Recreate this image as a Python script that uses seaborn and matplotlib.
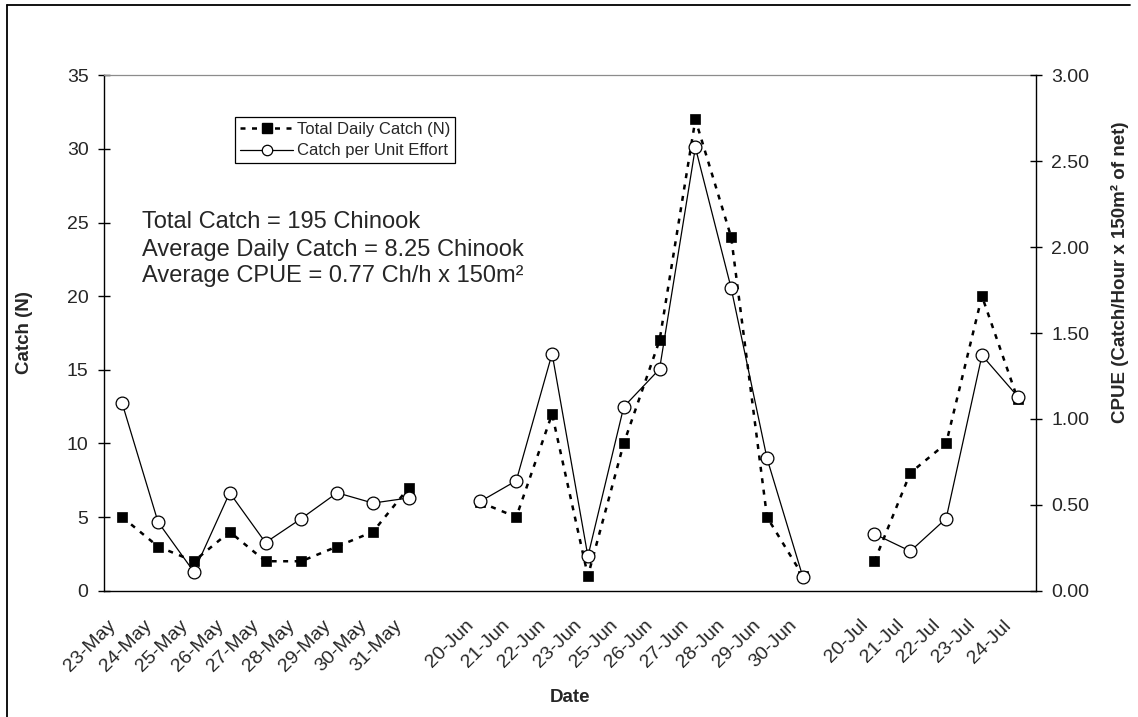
import numpy as np
import pandas as pd
import seaborn as sns
import matplotlib
matplotlib.use("Agg")
import matplotlib.pyplot as plt
from matplotlib.lines import Line2D
from matplotlib.transforms import ScaledTranslation

# ---------------- data ----------------
dates_may = ["23-May", "24-May", "25-May", "26-May", "27-May", "28-May", "29-May", "30-May", "31-May"]
dates_jun = ["20-Jun", "21-Jun", "22-Jun", "23-Jun", "25-Jun", "26-Jun", "27-Jun", "28-Jun", "29-Jun", "30-Jun"]
dates_jul = ["20-Jul", "21-Jul", "22-Jul", "23-Jul", "24-Jul"]

catch_may = [5, 3, 2, 4, 2, 2, 3, 4, 7]
catch_jun = [6, 5, 12, 1, 10, 17, 32, 24, 5, 1]
catch_jul = [2, 8, 10, 20, 13]

cpue_may = [1.09, 0.40, 0.11, 0.57, 0.28, 0.42, 0.57, 0.51, 0.54]
cpue_jun = [0.52, 0.64, 1.38, 0.20, 1.07, 1.29, 2.58, 1.76, 0.77, 0.08]
cpue_jul = [0.33, 0.23, 0.42, 1.37, 1.13]

left_ticks = [0, 5, 10, 15, 20, 25, 30, 35]
right_ticks = [0.0, 0.5, 1.0, 1.5, 2.0, 2.5, 3.0]

# category slots: one empty slot between sampling periods
slots = dates_may + [""] + dates_jun + [""] + dates_jul
rows = []
for period, dates, c, p in [("May", dates_may, catch_may, cpue_may),
                            ("Jun", dates_jun, catch_jun, cpue_jun),
                            ("Jul", dates_jul, catch_jul, cpue_jul)]:
    for d, cv, pv in zip(dates, c, p):
        rows.append({"period": period, "date": d, "pos": slots.index(d),
                     "catch": cv, "cpue": pv})
df = pd.DataFrame(rows)

# ---------------- style ----------------
sns.set_style("white")
plt.rcParams["font.family"] = ["Liberation Sans", "DejaVu Sans"]

W, H = 1138, 717
fig = plt.figure(figsize=(W / 100, H / 100), dpi=100)
ax_l, ax_r, ax_t, ax_b = 104.3, 1035.7, 75.3, 590.7
ax = fig.add_axes([ax_l / W, 1 - ax_b / H, (ax_r - ax_l) / W, (ax_b - ax_t) / H])
ax2 = ax.twinx()

dash = (0, (2.0, 2.6))
sns.lineplot(data=df, x="pos", y="catch", units="period", estimator=None, sort=False,
             ax=ax, color="black", linewidth=1.8, linestyle=dash,
             marker="s", markersize=6.8, markerfacecolor="black",
             markeredgecolor="black", markeredgewidth=0.5, legend=False)
sns.lineplot(data=df, x="pos", y="cpue", units="period", estimator=None, sort=False,
             ax=ax2, color="black", linewidth=0.9, linestyle="-",
             marker="o", markersize=9.2, markerfacecolor="white",
             markeredgecolor="black", markeredgewidth=0.9, legend=False)

ax.set_xlim(-0.5, len(slots) - 0.5)
ax.set_ylim(0, 35)
ax2.set_ylim(0, 3)

# x ticks: labels at slot centres, tick marks at slot boundaries
label_pos = [i for i, s in enumerate(slots) if s]
ax.set_xticks(label_pos)
ax.set_xticklabels([slots[i] for i in label_pos], fontsize=14)
ax.set_xticks(np.arange(-0.5, len(slots), 1.0), minor=True)
ax.tick_params(axis="x", which="major", length=0, pad=23)
ax.tick_params(axis="x", which="minor", direction="inout", length=8.6, width=1.0, color="black")
off = ScaledTranslation(-9 / 100, 0, fig.dpi_scale_trans)
for lab in ax.get_xticklabels():
    lab.set_rotation(45)
    lab.set_ha("right")
    lab.set_va("center")
    lab.set_rotation_mode("anchor")
    lab.set_transform(lab.get_transform() + off)

ax.set_yticks(left_ticks)
ax.set_yticklabels([str(v) for v in left_ticks], fontsize=14)
ax.tick_params(axis="y", direction="inout", length=8.6, width=1.0, pad=7, color="black", left=True)
ax2.set_yticks(right_ticks)
ax2.set_yticklabels([f"{v:.2f}" for v in right_ticks], fontsize=14)
ax2.tick_params(axis="y", direction="inout", length=8.6, width=1.0, pad=7, color="black", right=True)

for s in ["left", "bottom"]:
    ax.spines[s].set_color("black")
    ax.spines[s].set_linewidth(1.0)
ax.spines["right"].set_visible(False)
ax.spines["top"].set_color("#8c8c8c")
ax.spines["top"].set_linewidth(0.9)
for s in ["left", "bottom", "top"]:
    ax2.spines[s].set_visible(False)
ax2.spines["right"].set_color("black")
ax2.spines["right"].set_linewidth(1.0)

ax.set_xlabel("Date", fontsize=13.5, fontweight="bold")
ax.xaxis.set_label_coords(0.5, -0.19)
ax.set_ylabel("Catch (N)", fontsize=13.5, fontweight="bold")
ax.yaxis.set_label_coords(-0.0766, 0.5)
ax2.set_ylabel("CPUE (Catch/Hour x 150m² of net)", fontsize=13.5, fontweight="bold",
               rotation=90)
ax2.yaxis.set_label_coords(1.081, 0.617)

# legend
handles = [
    Line2D([], [], color="black", linewidth=1.8, linestyle=dash, marker="s",
           markersize=6.8, markerfacecolor="black", markeredgecolor="black"),
    Line2D([], [], color="black", linewidth=0.9, marker="o", markersize=7.5,
           markerfacecolor="white", markeredgecolor="black", markeredgewidth=0.9),
]
leg = ax2.legend(handles, ["Total Daily Catch (N)", "Catch per Unit Effort"],
                 loc="upper left", bbox_to_anchor=(235 / W, 1 - 116.7 / H),
                 bbox_transform=fig.transFigure, borderaxespad=0, fontsize=12,
                 frameon=True, fancybox=False, framealpha=1, edgecolor="black",
                 handlelength=3.2, handletextpad=0.2, borderpad=0.3,
                 labelspacing=0.4, numpoints=1)
leg.get_frame().set_linewidth(0.9)

# annotation
fig.text(141.7 / W, 1 - 228.3 / H, "Total Catch = 195 Chinook", fontsize=17, va="baseline")
fig.text(141.7 / W, 1 - 255.7 / H, "Average Daily Catch = 8.25 Chinook", fontsize=17, va="baseline")
fig.text(141.7 / W, 1 - 282.5 / H, "Average CPUE = 0.77 Ch/h x 150m²", fontsize=17, va="baseline")

# outer frame (left and top edges visible)
fig.add_artist(Line2D([7.3 / W, 7.3 / W], [0, 1 - 5.3 / H], transform=fig.transFigure,
                      color="black", linewidth=1.3))
fig.add_artist(Line2D([7.3 / W, 1130 / W], [1 - 5.3 / H, 1 - 5.3 / H], transform=fig.transFigure,
                      color="black", linewidth=1.3))

fig.savefig("out.png", dpi=100, facecolor="white")
